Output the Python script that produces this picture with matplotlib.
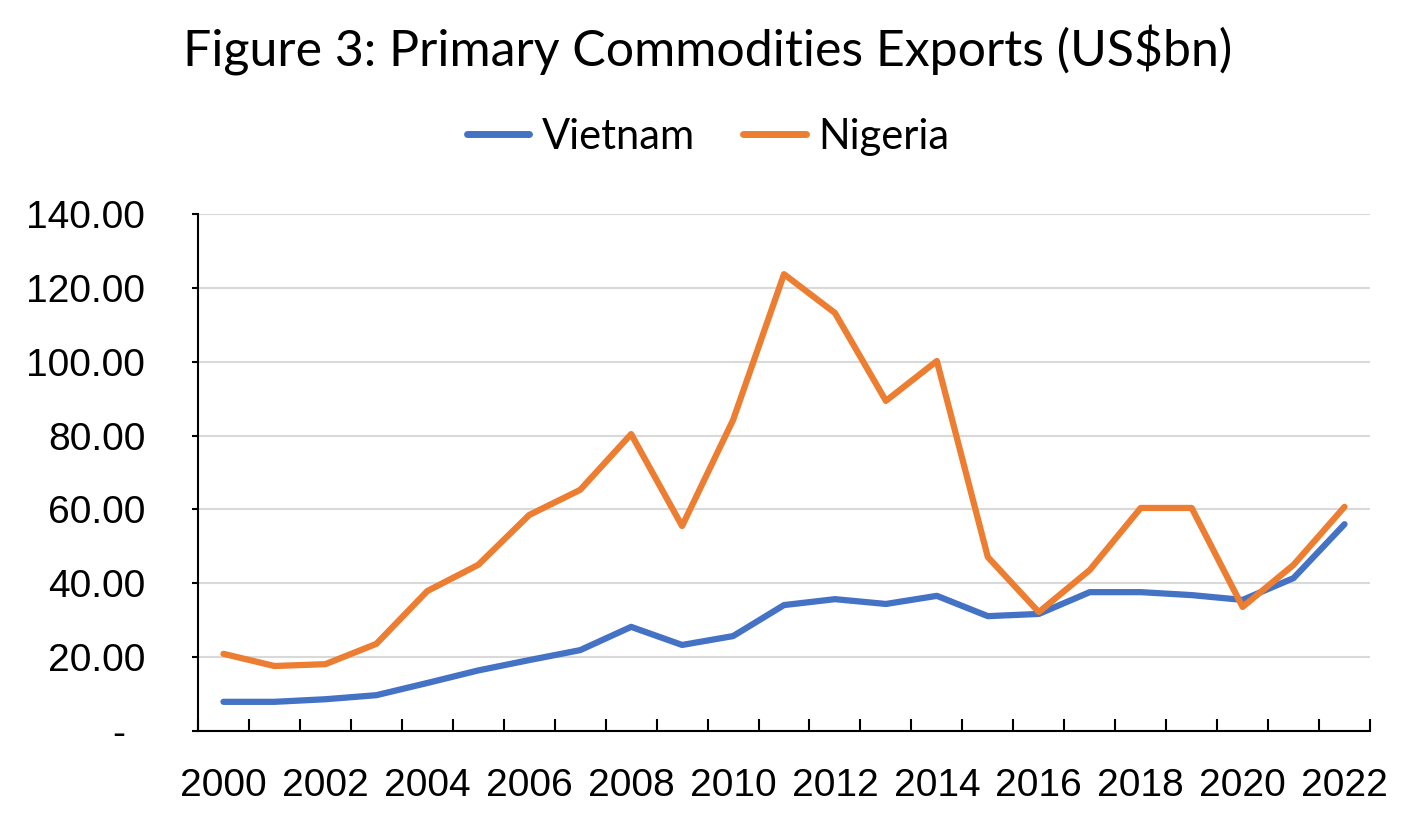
import matplotlib
matplotlib.use('Agg')
import matplotlib.pyplot as plt
import numpy as np

years = list(range(2000, 2023))
vietnam = [7.9, 7.9, 8.6, 9.7, 13.0, 16.4, 19.2, 21.9, 28.2, 23.3, 25.7, 34.1, 35.7,
           34.4, 36.6, 31.1, 31.7, 37.6, 37.6, 36.8, 35.5, 41.4, 56.0]
nigeria = [20.9, 17.6, 18.1, 23.6, 37.9, 45.0, 58.5, 65.3, 80.4, 55.5, 84.2, 123.7, 113.2,
           89.4, 100.2, 47.1, 32.2, 43.6, 60.4, 60.4, 33.6, 45.0, 60.7]
y_ticks = [0, 20, 40, 60, 80, 100, 120, 140]

BLUE = '#4472C4'
ORANGE = '#ED7D31'

plt.rcParams['font.family'] = ['Liberation Sans', 'DejaVu Sans']


def main():
    fig = plt.figure(figsize=(14.16, 8.23), dpi=100)
    ax = fig.add_axes([198 / 1416, 1 - 731 / 823, (1370 - 198) / 1416, (731 - 214) / 823])

    x = np.arange(len(years))
    ax.plot(x, vietnam, color=BLUE, lw=4.5, label='Vietnam', solid_capstyle='round', zorder=3)
    ax.plot(x, nigeria, color=ORANGE, lw=4.5, label='Nigeria', solid_capstyle='round', zorder=3)

    ax.set_xlim(-0.5, len(years) - 0.5)
    ax.set_ylim(0, 140)

    # y axis: Excel accounting style, zero shown as a dash
    ax.set_yticks(y_ticks)
    ax.set_yticklabels(['-\u2002'] + [f'{v:.2f}' for v in y_ticks[1:]])
    ax.tick_params(axis='y', direction='out', length=4, width=1.5, pad=34, labelsize=28)
    ax.yaxis.grid(True, color='#D9D9D9', lw=1.5)
    ax.set_axisbelow(True)

    # x axis: ticks at category boundaries, labels every other year
    ax.set_xticks(x[::2])
    ax.set_xticklabels([str(y) for y in years[::2]])
    ax.set_xticks(np.arange(-0.5, len(years)), minor=True)
    ax.tick_params(axis='x', which='major', length=0, pad=27, labelsize=28)
    ax.tick_params(axis='x', which='minor', direction='in', length=9, width=1.5)

    for s in ['top', 'right']:
        ax.spines[s].set_visible(False)
    for s in ['left', 'bottom']:
        ax.spines[s].set_linewidth(1.5)

    fig.text(0.5, 1 - 50 / 823, 'Figure 3: Primary Commodities Exports (US$bn)',
             ha='center', va='center', fontsize=36, family=['Lato', 'DejaVu Sans'])
    leg = fig.legend(loc='center', bbox_to_anchor=(0.5, 1 - 137 / 823), ncol=2, frameon=False,
                     prop={'family': ['Lato', 'DejaVu Sans'], 'size': 30},
                     handlelength=1.5, columnspacing=1.15, handletextpad=0.3)
    for h in leg.legend_handles:
        h.set_linewidth(5)

    fig.savefig('out.png', dpi=100)


if __name__ == '__main__':
    main()
